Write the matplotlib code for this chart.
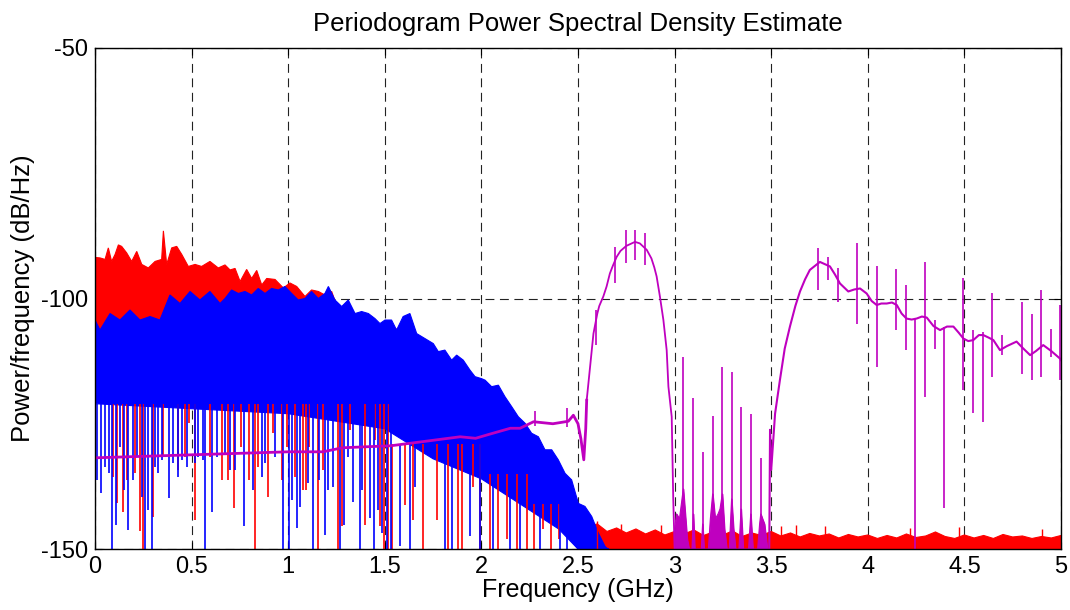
import numpy as np
import matplotlib.pyplot as plt

plt.rcParams['font.family'] = ['Liberation Sans', 'DejaVu Sans']
plt.rcParams['axes.unicode_minus'] = False

# ---- red trace: upper edge of the dense band (GHz, dB) ----
red_top_f = [0.0, 0.026, 0.052, 0.069, 0.086, 0.104, 0.121, 0.138, 0.164, 0.190,
             0.216, 0.242, 0.276, 0.311, 0.345, 0.354, 0.371, 0.397, 0.423, 0.449,
             0.483, 0.518, 0.552, 0.595, 0.638, 0.673, 0.699, 0.725, 0.751, 0.785,
             0.811, 0.837, 0.863, 0.889, 0.932, 0.975, 1.009, 1.044, 1.087, 1.121,
             1.156, 1.190, 1.225, 1.268, 1.311, 1.346, 1.40, 1.46, 1.51, 1.55,
             1.65, 1.75, 1.85, 1.95, 2.05, 2.15, 2.25, 2.35, 2.45, 2.50,
             2.55, 2.60, 2.65, 2.70, 2.75, 2.80, 2.85, 2.90, 2.95, 3.00,
             3.05, 3.10, 3.15, 3.20, 3.25, 3.30, 3.35, 3.40, 3.45, 3.50,
             3.55, 3.60, 3.65, 3.70, 3.75, 3.80, 3.85, 3.90, 3.95, 4.00,
             4.05, 4.10, 4.15, 4.20, 4.25, 4.30, 4.35, 4.40, 4.45, 4.50,
             4.55, 4.60, 4.65, 4.70, 4.75, 4.80, 4.85, 4.90, 4.95, 5.00]
red_top_db = [-91.8, -91.9, -92.2, -89.9, -92.6, -91.2, -89.3, -89.6, -90.9, -92.6,
              -90.6, -93.2, -93.9, -92.6, -92.2, -86.5, -93.2, -89.9, -89.6, -91.2,
              -93.6, -93.2, -93.6, -92.6, -93.9, -93.3, -94.3, -94.0, -96.6, -94.2,
              -96.0, -94.4, -97.3, -96.0, -96.2, -97.9, -96.9, -97.6, -99.6, -98.3,
              -98.6, -99.3, -98.6, -103.3, -101.0, -103.3, -104.0, -105.5, -106.3, -106.0,
              -107, -110, -113, -116, -119, -123, -127, -132, -137, -141,
              -145.5, -145.0, -146.5, -145.8, -146.8, -146.0, -147.0, -146.2, -147.2, -146.5,
              -147.0, -146.2, -147.3, -146.6, -147.2, -146.4, -147.5, -146.8, -147.3, -146.5,
              -147.4, -146.8, -147.6, -146.9, -147.4, -147.0, -147.8, -147.1, -147.6, -147.2,
              -147.9, -147.3, -147.8, -147.0, -147.7, -147.4, -146.6, -147.5, -147.9, -147.2,
              -147.8, -147.3, -147.9, -147.1, -147.6, -147.4, -147.9, -147.5, -147.8, -147.3]
red_bot_f = [0.0, 0.5, 1.0, 1.5, 2.0, 2.3, 2.5, 5.0]
red_bot_db = [-110, -112, -118, -124, -133, -140, -150, -150]
# red dips that show below the blue band
red_dip_f = [0.095, 0.112, 0.147, 0.167, 0.207, 0.233, 0.247, 0.298, 0.354, 0.431,
             0.466, 0.487, 0.518, 0.595, 0.656, 0.690, 0.721, 0.754, 0.797, 0.828,
             0.845, 0.897, 0.923, 0.966, 0.992, 1.035, 1.078, 1.090, 1.108, 1.156,
             1.182, 1.256, 1.280, 1.320, 1.398, 1.449, 1.475, 1.498, 1.518,
             1.536, 1.605, 1.648, 1.699, 1.769, 1.829, 1.881, 1.898, 1.958, 1.993,
             2.044, 2.088, 2.131, 2.183, 2.234, 2.27, 2.32, 2.36, 2.40]
red_dip_db = [-135.6, -140.9, -142.6, -136.2, -134.9, -146.5, -150, -143.6, -131.6, -134.2,
              -131.6, -124.9, -144.2, -131.6, -136.2, -136.2, -141.9, -129.6, -136.2, -150,
              -133.6, -139.6, -126.9, -136.2, -129.6, -135.6, -138.2, -138.2, -129.6, -150,
              -134.2, -150, -145.5, -126.2, -145.2, -128.2, -145.5, -150, -150,
              -150, -141.3, -144.2, -150, -144.2, -150, -150, -150, -137.6, -150,
              -150, -150, -148.1, -150, -150, -150, -146, -150, -148]
red_dip_top = [-121] * 39 + [-129] * 10 + [-135] * 5 + [-141] * 4
# red floor spikes
red_peak_f = [2.60, 2.72, 2.93, 3.55, 3.63, 3.78, 4.22, 4.47, 4.90]
red_peak_db = [-144.5, -145.0, -145.2, -145.5, -145.2, -145.5, -145.8, -145.6, -146.0]

# ---- blue trace ----
blue_top_f = [0.0, 0.026, 0.078, 0.129, 0.181, 0.233, 0.285, 0.336, 0.388, 0.440,
              0.492, 0.543, 0.595, 0.647, 0.673, 0.707, 0.742, 0.776, 0.811, 0.845,
              0.880, 0.914, 0.949, 0.983, 1.018, 1.052, 1.087, 1.121, 1.156, 1.190,
              1.208, 1.242, 1.277, 1.311, 1.346, 1.380, 1.415, 1.449, 1.475, 1.501,
              1.535, 1.561, 1.595, 1.630, 1.665, 1.708, 1.751, 1.777, 1.811, 1.846,
              1.872, 1.906, 1.941, 1.967, 2.001, 2.019, 2.053, 2.088, 2.122, 2.157,
              2.191, 2.226, 2.260, 2.295, 2.329, 2.364, 2.398, 2.433, 2.467, 2.502,
              2.536, 2.571, 2.605, 2.640, 2.655]
blue_top_db = [-104.3, -106.3, -103.0, -104.3, -102.3, -104.3, -103.6, -104.3, -99.3, -101.0,
               -98.6, -100.3, -98.6, -101.0, -100.0, -98.3, -99.0, -98.6, -99.3, -98.0,
               -99.0, -98.0, -98.3, -97.6, -99.0, -100.3, -100.0, -98.6, -100.0, -99.0,
               -97.6, -100.3, -101.6, -100.3, -103.0, -102.6, -103.0, -104.0, -105.0, -104.3,
               -104.3, -106.3, -103.6, -103.0, -107.0, -108.0, -109.0, -110.6, -110.3, -112.3,
               -111.3, -112.3, -114.3, -115.6, -116.0, -116.3, -117.6, -117.3, -119.6, -121.6,
               -123.6, -124.9, -126.9, -127.6, -130.2, -130.2, -132.2, -134.9, -136.2, -140.9,
               -141.5, -143.5, -146.8, -149.5, -150.0]
blue_bot_f = [0.0, 0.5, 1.0, 1.5, 1.75, 2.0, 2.2, 2.4, 2.5, 2.66]
blue_bot_db = [-121, -122, -123, -126, -132, -136, -141, -146, -150, -150]
blue_dip_f = [0.009, 0.031, 0.052, 0.072, 0.086, 0.107, 0.129, 0.152, 0.173, 0.198,
              0.216, 0.242, 0.259, 0.276, 0.297, 0.311, 0.328, 0.345, 0.383, 0.405,
              0.431, 0.452, 0.474, 0.518, 0.535, 0.561, 0.569, 0.607, 0.630, 0.673,
              0.699, 0.725, 0.773, 0.820, 0.863, 0.880, 0.932, 0.975, 1.006, 1.018,
              1.044, 1.061, 1.104, 1.130, 1.159, 1.190, 1.208, 1.234, 1.268, 1.291,
              1.311, 1.337, 1.372, 1.380, 1.423, 1.446, 1.467, 1.487, 1.510, 1.532,
              1.579, 1.630, 1.656, 1.812, 1.846, 1.941, 1.993,
              2.062, 2.148, 2.200, 2.303, 2.407, 2.441]
blue_dip_db = [-136.2, -138.9, -133.6, -134.9, -150, -145.2, -129.6, -138.2, -146.2, -136.2,
               -131.6, -139.6, -150, -142.2, -150, -133.6, -134.9, -132.2, -139.9, -132.9,
               -135.6, -132.2, -133.6, -132.9, -131.6, -132.2, -150, -142.6, -131.6, -130.9,
               -134.2, -134.2, -145.5, -138.2, -135.6, -132.9, -131.6, -150, -150, -140.2,
               -145.9, -141.6, -136.9, -150, -136.2, -147.2, -138.2, -137.6, -150, -145.2,
               -131.6, -140.6, -150, -138.2, -143.9, -150, -142.2, -146.9, -150, -150,
               -149.5, -150, -137.6, -150, -150, -147.5, -150,
               -150, -150, -150, -150, -150, -150]
blue_dip_top = [-121] * 60 + [-129] * 7 + [-135] * 3 + [-141] * 3

# ---- magenta trace ----
mag_f = [0.0, 0.25, 0.5, 0.75, 1.0, 1.18, 1.28, 1.4, 1.53, 1.73,
         1.89, 1.97, 2.05, 2.15, 2.2, 2.27, 2.37, 2.45, 2.476, 2.50,
         2.515, 2.53, 2.54, 2.545, 2.58, 2.60, 2.61, 2.631, 2.648, 2.665,
         2.68, 2.70, 2.72, 2.75, 2.795, 2.82, 2.856, 2.88, 2.895, 2.907,
         2.924, 2.942, 2.959, 2.968, 2.985, 2.993, 3.0]
mag_db = [-131.8, -131.5, -131.2, -130.9, -130.6, -130.6, -129.8, -129.6, -129.4, -128.4,
          -127.6, -127.9, -127.0, -125.9, -125.9, -124.6, -125.0, -124.5, -123.3, -125.0,
          -128.0, -132.2, -126.0, -120.3, -107.0, -103.0, -101.5, -99.6, -97.6, -95.0,
          -93.5, -91.7, -90.5, -89.5, -88.7, -89.0, -90.3, -92.0, -93.8, -95.6,
          -99.6, -104.3, -110.3, -117.6, -123.6, -140.0, -150.0]
comb_f = [3.0, 3.01, 3.025, 3.035, 3.045, 3.055, 3.065, 3.075, 3.09, 3.097,
          3.104, 3.138, 3.145, 3.152, 3.175, 3.185, 3.197, 3.21, 3.225, 3.235,
          3.247, 3.258, 3.27, 3.283, 3.295, 3.305, 3.315, 3.333, 3.344, 3.355,
          3.383, 3.394, 3.405, 3.43, 3.44, 3.446, 3.455, 3.465, 3.48, 3.49]
comb_db = [-146, -143, -144, -141, -138, -143, -148, -150, -150, -143,
           -150, -150, -145, -150, -150, -144, -139, -144, -143, -142,
           -139, -146, -150, -150, -140, -146, -150, -150, -142, -150,
           -150, -143, -150, -150, -145, -143, -144, -145, -150, -150]
lobe_f = [3.49, 3.494, 3.50, 3.52, 3.545, 3.57, 3.597, 3.625, 3.649, 3.675,
          3.70, 3.752, 3.804, 3.83, 3.856, 3.899, 3.93, 3.96, 3.994, 4.02,
          4.046, 4.07, 4.098, 4.125, 4.15, 4.175, 4.20, 4.227, 4.253, 4.28,
          4.305, 4.34, 4.374, 4.41, 4.443, 4.47, 4.495, 4.52, 4.546, 4.575,
          4.598, 4.625, 4.65, 4.684, 4.72, 4.77, 4.80, 4.84, 4.87, 4.908,
          4.95, 4.995, 5.0]
lobe_db = [-150, -126.2, -134.2, -123.0, -116.3, -110.0, -105.6, -101.5, -98.6, -96.2,
           -94.3, -92.7, -93.6, -95.2, -97.0, -98.6, -98.2, -98.0, -99.0, -100.5,
           -101.3, -101.0, -101.0, -100.8, -101.3, -103.0, -104.0, -104.2, -104.0, -103.6,
           -103.8, -105.5, -106.3, -105.6, -105.6, -106.8, -108.0, -108.5, -108.3, -107.3,
           -107.3, -107.8, -108.3, -110.3, -109.5, -108.6, -109.8, -111.3, -110.5, -109.3,
           -110.5, -112.0, -112.3]
mag_spike_f = [2.28, 2.445, 2.593, 2.692, 2.747, 2.795, 2.847,
               3.045, 3.097, 3.145, 3.197, 3.247, 3.295, 3.344, 3.394, 3.446,
               3.744, 3.796, 3.847, 3.946, 4.046, 4.146, 4.196, 4.244, 4.296, 4.348,
               4.396, 4.495, 4.546, 4.595, 4.644, 4.693, 4.797, 4.848, 4.896, 4.948, 4.995]
mag_spike_lo = [-125.5, -125.6, -109.3, -97.0, -93.0, -92.3, -93.3,
                -150, -150, -150, -150, -150, -150, -150, -150, -150,
                -98.3, -96.3, -100.6, -105.0, -113.6, -106.3, -110.3, -150, -119.6, -110.0,
                -141.9, -118.3, -122.9, -124.6, -115.6, -111.3, -115.0, -116.3, -115.6, -111.6, -116.3]
mag_spike_hi = [-122.5, -121.9, -102.3, -89.7, -86.3, -86.3, -87.0,
                -111.6, -119.9, -130.6, -123.5, -113.6, -114.7, -121.7, -123.1, -131.9,
                -90.0, -91.7, -94.0, -89.0, -93.6, -94.2, -97.3, -104.0, -92.7, -104.3,
                -105.6, -96.0, -106.3, -106.6, -99.0, -107.3, -100.6, -103.0, -98.3, -106.0, -101.3]

red = '#ff0000'
blue = '#0000ff'
mag = '#bf00bf'

fig = plt.figure(figsize=(10.7, 6.1), dpi=100)
ax = fig.add_axes([95 / 1070, 61 / 610, 966 / 1070, 501 / 610])

# red
ax.fill(red_top_f + red_bot_f[::-1], red_top_db + red_bot_db[::-1], color=red, lw=0.8, ec=red)
ax.vlines(red_dip_f, red_dip_db, red_dip_top, color=red, lw=1.2)
ax.vlines(red_peak_f, -150, red_peak_db, color=red, lw=1.0)

# blue
ax.fill(blue_top_f + blue_bot_f[::-1], blue_top_db + blue_bot_db[::-1], color=blue, lw=0.8, ec=blue)
ax.vlines(blue_dip_f, blue_dip_db, blue_dip_top, color=blue, lw=1.2)

# magenta
ax.plot(mag_f[:24], mag_db[:24], color=mag, lw=2.0)
ax.plot(mag_f[23:], mag_db[23:], color=mag, lw=1.3)
ax.fill_between(comb_f, comb_db, -150, color=mag, lw=0.8)
ax.plot(comb_f, comb_db, color=mag, lw=0.8)
ax.plot(lobe_f, lobe_db, color=mag, lw=1.5)
ax.vlines(mag_spike_f, mag_spike_lo, mag_spike_hi, color=mag, lw=1.2)

ax.set_xlim(0, 5)
ax.set_ylim(-150, -50)
ax.set_xticks(np.arange(0, 5.01, 0.5))
ax.set_xticklabels(['0', '0.5', '1', '1.5', '2', '2.5', '3', '3.5', '4', '4.5', '5'])
ax.set_yticks([-150, -100, -50])
ax.set_axisbelow(True)
ax.grid(True, color='#222222', lw=0.8, linestyle=(0, (8, 5)))
ax.tick_params(direction='in', length=5, labelsize=17, top=True, right=True, pad=5)
for s in ax.spines.values():
    s.set_linewidth(1.0)

ax.set_title('Periodogram Power Spectral Density Estimate', fontsize=18.5, pad=12)
ax.set_xlabel('Frequency (GHz)', fontsize=18, labelpad=0)
ax.set_ylabel('Power/frequency (dB/Hz)', fontsize=18.5, labelpad=4)

fig.savefig('out.png', dpi=100)
